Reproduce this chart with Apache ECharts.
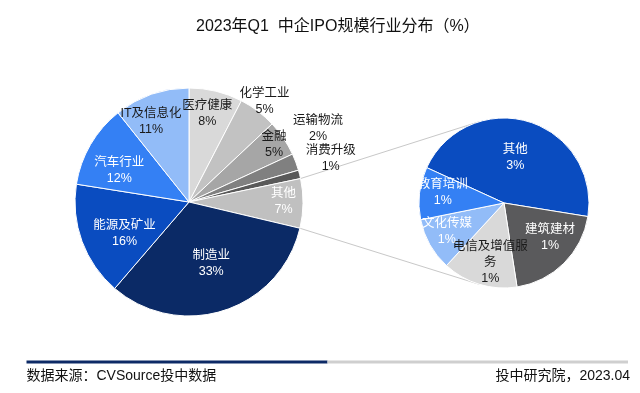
<!DOCTYPE html>
<html>
<head>
<meta charset="utf-8">
<script src="https://cdn.jsdelivr.net/npm/echarts@6/dist/echarts.min.js"></script>
<style>
html,body{margin:0;padding:0;background:#fff;}
#chart{width:640px;height:393px;}
</style>
</head>
<body>
<div id="chart"></div>
<script>
// ---- data ----
const titleText = '2023年Q1  中企IPO规模行业分布（%）';
const sourceText = '数据来源：CVSource投中数据';
const creditText = '投中研究院，2023.04';

const mainNames = ['医疗健康', '化学工业', '金融', '运输物流', '消费升级', '其他', '制造业', '能源及矿业', '汽车行业', 'IT及信息化'];
const mainValues = [7.6, 5.4, 5.1, 2.4, 1.2, 7.0, 32.6, 16.2, 11.8, 10.7];

const subNames = ['其他', '建筑建材', '电信及增值服务', '文化传媒', '教育培训'];
const subValues = [3.2, 1.4, 1.0, 0.7, 0.7];

// ---- style ----
const FONT = "'Liberation Sans', 'Noto Sans CJK SC', sans-serif";
const DARK = '#1a1a1a';
const mainColors = ['#d9d9d9', '#c2c2c2', '#a6a6a6', '#808080', '#595959', '#c0c0c0', '#0b2a66', '#0a4cc0', '#3480f4', '#92bcf8'];
const mainLabelColors = [DARK, DARK, DARK, DARK, DARK, '#fff', '#fff', '#fff', '#fff', DARK];
// [radial fraction, angular offset in degrees]
const mainLabelPlace = [[0.79, -2], [1.1, 0], [0.9, 0], [1.3, -9], [1.3, -3], [0.83, -1], [0.57, -2], [0.63, -6], [0.67, -6], [0.78, -6]];

const subColors = ['#0a4cc0', '#5a5a5c', '#d9d9d9', '#92bcf8', '#3480f4'];
const subLabelColors = ['#fff', '#fff', DARK, '#fff', '#fff'];
const subLabelPlace = [[0.55, -3], [0.68, -8], [0.72, -4], [0.75, 3], [0.73, 3]];

const mainC = [189, 202], mainR = 114, mainStartClock = 0;
const subC = [504, 203], subR = 85, subStartClock = 294.6;

function cumulative(vals) {
  const out = []; let s = 0;
  vals.forEach(v => { out.push(s); s += v; });
  return { starts: out, total: s };
}

function makeLayout(values, c, r, startClock, place) {
  const cu = cumulative(values);
  return function (params) {
    const i = params.dataIndex;
    const mid = startClock + (cu.starts[i] + values[i] / 2) / cu.total * 360 + place[i][1];
    const rad = mid * Math.PI / 180;
    const d = place[i][0] * r;
    return { x: c[0] + d * Math.sin(rad), y: c[1] - d * Math.cos(rad), align: 'center', verticalAlign: 'middle' };
  };
}

function pt(c, r, clockDeg) {
  const a = clockDeg * Math.PI / 180;
  return [c[0] + r * Math.sin(a), c[1] - r * Math.cos(a)];
}

// connector lines from the main "其他" slice edges to the secondary pie
const mcu = cumulative(mainValues);
const otherIdx = mainNames.indexOf('其他');
const otherStart = mainStartClock + mcu.starts[otherIdx] / mcu.total * 360;
const otherEnd = mainStartClock + (mcu.starts[otherIdx] + mainValues[otherIdx]) / mcu.total * 360;
const p1 = pt(mainC, mainR, otherStart), p2 = pt(mainC, mainR, otherEnd);
const q1 = pt(subC, subR, -17), q2 = pt(subC, subR, 197);

const fmt = p => p.name + '\n' + Math.round(p.value) + '%';

const chart = echarts.init(document.getElementById('chart'), null, { renderer: 'canvas' });
chart.setOption({
  backgroundColor: '#fff',
  animation: false,
  textStyle: { fontFamily: FONT },
  title: {
    text: titleText, left: 191, top: 14,
    textStyle: { fontSize: 16, fontWeight: 'normal', color: '#111', fontFamily: FONT }
  },
  graphic: [
    { type: 'line', z: 0, shape: { x1: p1[0], y1: p1[1], x2: q1[0], y2: q1[1] }, style: { stroke: '#c8c8c8', lineWidth: 1 } },
    { type: 'line', z: 0, shape: { x1: p2[0], y1: p2[1], x2: q2[0], y2: q2[1] }, style: { stroke: '#c8c8c8', lineWidth: 1 } },
    { type: 'rect', shape: { x: 26.5, y: 360.5, width: 301, height: 3 }, style: { fill: '#0d2a66' } },
    { type: 'rect', shape: { x: 327.5, y: 360.5, width: 300.5, height: 3 }, style: { fill: '#cfcfcf' } },
    { type: 'text', left: 26.5, top: 369, style: { text: sourceText, fontSize: 14, fill: '#111', fontFamily: FONT } },
    { type: 'text', right: 10, top: 369, style: { text: creditText, fontSize: 14, fill: '#111', fontFamily: FONT } }
  ],
  series: [
    {
      type: 'pie', z: 2,
      center: mainC, radius: mainR,
      startAngle: 90 - mainStartClock, clockwise: true,
      avoidLabelOverlap: false,
      itemStyle: { borderColor: '#fff', borderWidth: 1 },
      label: { show: true, position: 'inside', formatter: fmt, fontSize: 12.5, lineHeight: 16, fontFamily: FONT },
      labelLine: { show: false },
      labelLayout: makeLayout(mainValues, mainC, mainR, mainStartClock, mainLabelPlace),
      emphasis: { disabled: true },
      data: mainNames.map((n, i) => ({
        name: n, value: mainValues[i],
        itemStyle: { color: mainColors[i] },
        label: { color: mainLabelColors[i] }
      }))
    },
    {
      type: 'pie', z: 2,
      center: subC, radius: subR,
      startAngle: 90 - subStartClock + 360, clockwise: true,
      avoidLabelOverlap: false,
      itemStyle: { borderColor: '#fff', borderWidth: 1 },
      label: { show: true, position: 'inside', formatter: fmt, fontSize: 12.5, lineHeight: 16, fontFamily: FONT },
      labelLine: { show: false },
      labelLayout: makeLayout(subValues, subC, subR, subStartClock, subLabelPlace),
      emphasis: { disabled: true },
      data: subNames.map((n, i) => ({
        name: n, value: subValues[i],
        itemStyle: { color: subColors[i] },
        label: n === '电信及增值服务'
          ? { color: subLabelColors[i], width: 76, overflow: 'break' }
          : { color: subLabelColors[i] }
      }))
    }
  ]
});
</script>
</body>
</html>
